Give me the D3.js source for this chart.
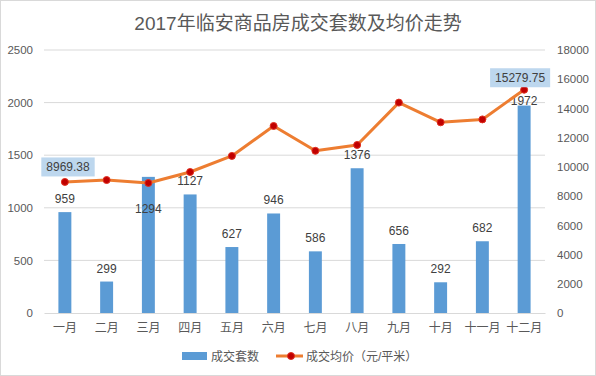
<!DOCTYPE html>
<html>
<head>
<meta charset="utf-8">
<script src="https://cdn.jsdelivr.net/npm/d3@7"></script>
<style>
  body { margin: 0; background: #fff; }
  svg { display: block; font-family: "Liberation Sans", "Noto Sans CJK SC", sans-serif; }
  svg text { font-family: "Liberation Sans", "Noto Sans CJK SC", sans-serif; }
</style>
</head>
<body>
<svg id="chart"></svg>
<script>
const months = ['一月', '二月', '三月', '四月', '五月', '六月', '七月', '八月', '九月', '十月', '十一月', '十二月'];
const deals = [959, 299, 1294, 1127, 627, 946, 586, 1376, 656, 292, 682, 1972];
const prices = [8969.38, 9100, 8900, 9650, 10750, 12800, 11100, 11500, 14400, 13050, 13250, 15279.75];
const leftTicks = [0, 500, 1000, 1500, 2000, 2500];
const rightTicks = [0, 2000, 4000, 6000, 8000, 10000, 12000, 14000, 16000, 18000];

const width = 596, height = 376;
const margin = {top: 50, right: 51, bottom: 63, left: 44};
const innerWidth = width - margin.left - margin.right;
const innerHeight = height - margin.top - margin.bottom;

const svg = d3.select('#chart')
    .attr('width', width)
    .attr('height', height);

svg.append('rect')
    .attr('x', 0.5).attr('y', 0.5)
    .attr('width', width - 1).attr('height', height - 1)
    .attr('fill', '#fff')
    .attr('stroke', '#d9d9d9');

svg.append('text')
    .attr('x', width / 2)
    .attr('y', 30)
    .attr('text-anchor', 'middle')
    .attr('font-size', 19)
    .attr('fill', '#595959')
    .text('2017年临安商品房成交套数及均价走势');

const g = svg.append('g')
    .attr('transform', `translate(${margin.left},${margin.top})`);

const xScale = d3.scaleBand()
    .domain(months)
    .range([0, innerWidth])
    .paddingInner(0.69)
    .paddingOuter(0.345);
const xPoint = d => xScale(d) + xScale.bandwidth() / 2;

const yLeft = d3.scaleLinear().domain([0, 2500]).range([innerHeight, 0]);
const yRight = d3.scaleLinear().domain([0, 18000]).range([innerHeight, 0]);

// gridlines
g.append('g')
    .selectAll('line').data(leftTicks.slice(1))
    .enter().append('line')
        .attr('x1', 0).attr('x2', innerWidth)
        .attr('y1', d => yLeft(d)).attr('y2', d => yLeft(d))
        .attr('stroke', '#d9d9d9');

// left axis
const leftAxis = g.append('g')
    .call(d3.axisLeft(yLeft).tickValues(leftTicks).tickFormat(d3.format('d')).tickSize(0).tickPadding(11));
leftAxis.attr('font-family', null).attr('font-size', 11.5);
leftAxis.select('.domain').remove();
leftAxis.selectAll('text').attr('fill', '#595959');

// right axis
const rightAxis = g.append('g')
    .attr('transform', `translate(${innerWidth},0)`)
    .call(d3.axisRight(yRight).tickValues(rightTicks).tickFormat(d3.format('d')).tickSize(0).tickPadding(12));
rightAxis.attr('font-family', null).attr('font-size', 11.5);
rightAxis.select('.domain').remove();
rightAxis.selectAll('text').attr('fill', '#595959');

// bottom axis
const bottomAxis = g.append('g')
    .attr('transform', `translate(0,${innerHeight})`)
    .call(d3.axisBottom(xScale).tickSize(0).tickPadding(10));
bottomAxis.attr('font-family', null).attr('font-size', 12);
bottomAxis.select('.domain').attr('stroke', '#d9d9d9');
bottomAxis.selectAll('text').attr('fill', '#595959');

// bars
g.selectAll('rect.bar').data(deals)
    .enter().append('rect')
        .attr('class', 'bar')
        .attr('x', (d, i) => xScale(months[i]))
        .attr('y', d => yLeft(d))
        .attr('width', xScale.bandwidth())
        .attr('height', d => innerHeight - yLeft(d))
        .attr('fill', '#5b9bd5');

// bar labels (三月 and 十二月 were nudged in the original)
const labelShift = {2: 45, 11: 8};
g.selectAll('text.barlabel').data(deals)
    .enter().append('text')
        .attr('class', 'barlabel')
        .attr('x', (d, i) => xPoint(months[i]))
        .attr('y', (d, i) => yLeft(d) - 9 + (labelShift[i] || 0))
        .attr('text-anchor', 'middle')
        .attr('font-size', 12)
        .attr('fill', '#404040')
        .text(d => d);

// price line
const line = d3.line()
    .x((d, i) => xPoint(months[i]))
    .y(d => yRight(d));

g.append('path')
    .datum(prices)
    .attr('d', line)
    .attr('fill', 'none')
    .attr('stroke', '#ed7d31')
    .attr('stroke-width', 3)
    .attr('stroke-linejoin', 'round');

g.selectAll('circle').data(prices)
    .enter().append('circle')
        .attr('cx', (d, i) => xPoint(months[i]))
        .attr('cy', d => yRight(d))
        .attr('r', 3.5)
        .attr('fill', '#c00000')
        .attr('stroke', '#e03020')
        .attr('stroke-width', 1);

// highlighted price labels (first and last)
[0, prices.length - 1].forEach(i => {
    const cx = i === 0 ? 24 : xPoint(months[i]) - 4;
    const cy = yRight(prices[i]) - (i === 0 ? 15 : 12);
    const lbl = g.append('g');
    const t = lbl.append('text')
        .attr('x', cx)
        .attr('y', cy + 4)
        .attr('text-anchor', 'middle')
        .attr('font-size', 12)
        .attr('fill', '#404040')
        .text(prices[i]);
    const w = t.node().getComputedTextLength() + 10;
    lbl.insert('rect', 'text')
        .attr('x', cx - w / 2)
        .attr('y', cy - 9.5)
        .attr('width', w)
        .attr('height', 19)
        .attr('fill', '#bdd7ee');
});

// legend
const legend = svg.append('g').attr('transform', 'translate(0,356)');
legend.append('rect')
    .attr('x', 182).attr('y', -4)
    .attr('width', 25).attr('height', 8)
    .attr('fill', '#5b9bd5');
legend.append('text')
    .attr('x', 211).attr('y', 4.5)
    .attr('font-size', 12).attr('fill', '#595959')
    .text('成交套数');
legend.append('line')
    .attr('x1', 276).attr('x2', 303)
    .attr('y1', 0).attr('y2', 0)
    .attr('stroke', '#ed7d31').attr('stroke-width', 3);
legend.append('circle')
    .attr('cx', 291).attr('cy', 0).attr('r', 3.5)
    .attr('fill', '#c00000').attr('stroke', '#e03020');
legend.append('text')
    .attr('x', 306).attr('y', 4.5)
    .attr('font-size', 12).attr('fill', '#595959')
    .text('成交均价（元/平米）');
</script>
</body>
</html>
